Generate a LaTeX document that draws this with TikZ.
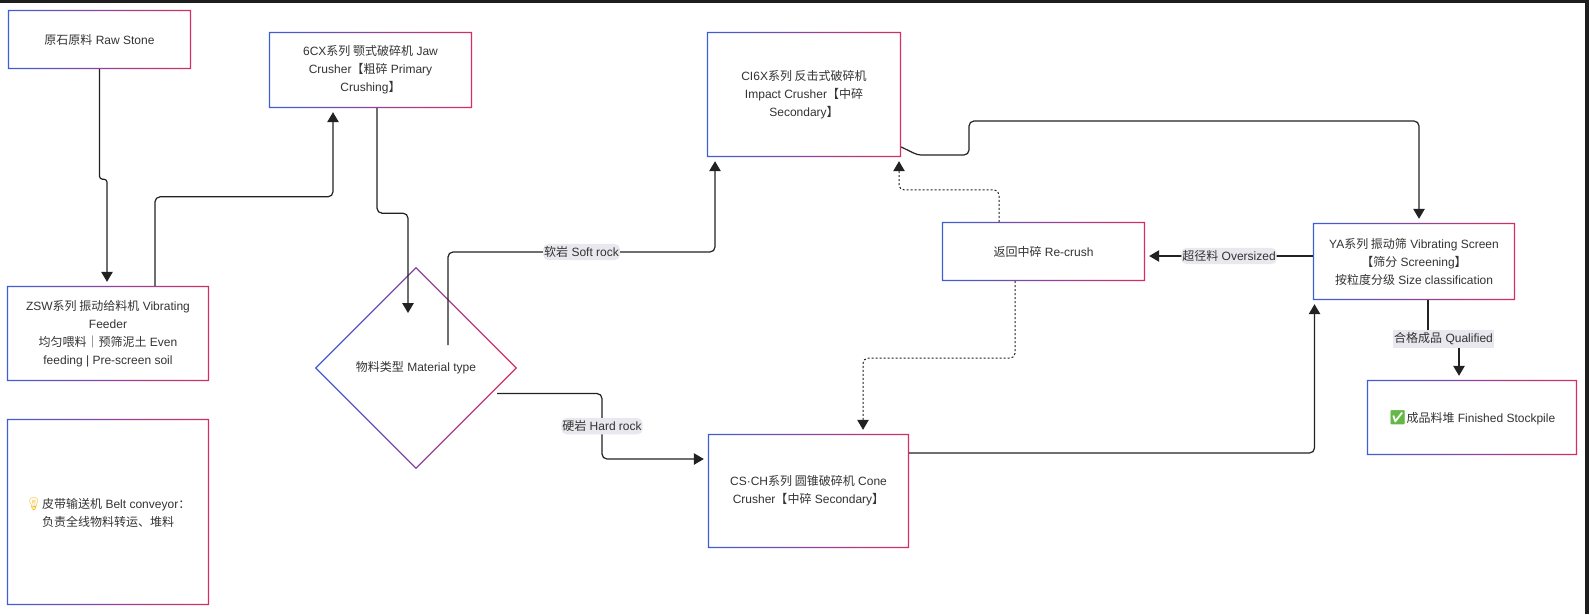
\documentclass[tikz,border=0pt]{standalone}
\usepackage{fontspec}
\setmainfont{Liberation Sans}
\newfontfamily\cjkf{Noto Sans CJK SC}
\newfontfamily\emjf{Noto Emoji}
\newcommand\zhs[1]{{\cjkf #1}}
\usetikzlibrary{arrows.meta,shapes.geometric}
\definecolor{textc}{HTML}{333333}
\definecolor{linec}{HTML}{222222}
\definecolor{gblue}{RGB}{60,95,215}
\definecolor{gred}{RGB}{215,45,100}
\definecolor{lblbg}{RGB}{232,232,238}
\definecolor{bulb}{RGB}{246,190,40}
\definecolor{okgreen}{RGB}{100,185,70}
\definecolor{framec}{HTML}{1E1E1E}
\newcommand\gring[1]{\shade[ring] (#1.south west) rectangle (#1.north east) ([shift={(1.4pt,1.4pt)}]#1.south west) rectangle ([shift={(-1.4pt,-1.4pt)}]#1.north east);}
\begin{document}
\begin{tikzpicture}[x=1pt,y=-1pt,
  box/.style={inner sep=0pt, align=center, text=textc, font=\fontsize{12}{18}\selectfont},
  ring/.style={left color=gblue, right color=gred, even odd rule},
  flow/.style={draw=linec, line width=1.2pt, rounded corners=5pt, -{Triangle[length=10pt,width=11.5pt]}, shorten >=4pt},
  dflow/.style={flow, line width=1pt, dash pattern=on 2pt off 2pt},
  lbl/.style={fill=lblbg, text=textc, inner xsep=1pt, inner ysep=2.5pt, font=\fontsize{12}{14}\selectfont},
]
\useasboundingbox (0,0) rectangle (1589,614);
\fill[white] (0,0) rectangle (1589,614);
\fill[framec] (0,0) rectangle (1589,2.7);
\fill[framec] (1585,0) rectangle (1589,614);

% nodes
\node[box, minimum width=183pt, minimum height=59pt] (raw) at (99.5,39.5) {\zhs{原石原料} Raw Stone};
\node[box, minimum width=203pt, minimum height=76pt] (jaw) at (370.5,70) {6CX\zhs{系列 颚式破碎机} Jaw\\Crusher\zhs{【粗碎} Primary\\Crushing\zhs{】}};
\node[box, minimum width=194pt, minimum height=125pt] (impact) at (804,94.5) {CI6X\zhs{系列 反击式破碎机}\\Impact Crusher\zhs{【中碎}\\Secondary\zhs{】}};
\node[box, minimum width=202pt, minimum height=95pt] (feeder) at (108,333.5) {ZSW\zhs{系列 振动给料机} Vibrating\\Feeder\\\zhs{均匀喂料｜预筛泥土} Even\\feeding | Pre-screen soil};
\node[box, minimum width=202pt, minimum height=186pt] (belt) at (108,512) {{\emjf\fontsize{13}{18}\selectfont\color{bulb}💡}\zhs{皮带输送机} Belt conveyor\zhs{：}\\\zhs{负责全线物料转运、堆料}};
\node[box, shape=diamond, minimum width=202pt, minimum height=202pt] (dia) at (416,368) {\zhs{物料类型} Material type};
\node[box, minimum width=203pt, minimum height=59pt] (recrush) at (1043.5,251.5) {\zhs{返回中碎} Re-crush};
\node[box, minimum width=202pt, minimum height=77pt] (screen) at (1414,261.5) {YA\zhs{系列 振动筛} Vibrating Screen\\\zhs{【筛分} Screening\zhs{】}\\\zhs{按粒度分级} Size classification};
\node[box, minimum width=210pt, minimum height=75pt] (stock) at (1472,417.5) {{\emjf\fontsize{14}{18}\selectfont\color{okgreen}✅}\zhs{成品料堆} Finished Stockpile};
\node[box, minimum width=201pt, minimum height=114pt] (cone) at (808.5,491) {CS·CH\zhs{系列 圆锥破碎机} Cone\\Crusher\zhs{【中碎} Secondary\zhs{】}};

\coordinate (dIn) at (408,317);
\coordinate (dSoft) at (448,345);
\coordinate (dHard) at (497,393.5);

% borders
\gring{raw}\gring{jaw}\gring{impact}\gring{feeder}\gring{belt}
\gring{recrush}\gring{screen}\gring{stock}\gring{cone}
\shade[ring] (dia.north) -- (dia.east) -- (dia.south) -- (dia.west) -- cycle
  ([yshift=-1.8pt]dia.north) -- ([xshift=-1.8pt]dia.east) -- ([yshift=1.8pt]dia.south) -- ([xshift=1.8pt]dia.west) -- cycle;

% connectors
\draw[flow, rounded corners=3pt] (raw.south) -- ++(0,110) -| ([xshift=-1pt]feeder.north);
\draw[flow] ([xshift=47pt]feeder.north) -- ++(0,-89) -| ([xshift=-37.5pt]jaw.south);
\draw[flow] ([xshift=6.5pt]jaw.south) -- ++(0,105) -| (dIn);
\draw[flow] (dSoft) -- (448,252) -- node[lbl] {\zhs{软岩} Soft rock} (715,252) -- ([xshift=-89pt]impact.south);
\draw[flow] (dHard) -- (602,393.5) -- node[lbl] {\zhs{硬岩} Hard rock} (602,459) -- ([yshift=32pt]cone.west);
\draw[flow] ([yshift=-52.5pt]impact.east) .. controls (912,152) and (916,155) .. (926,155) -- (969,155) -- (969,121) -| ([xshift=5pt]screen.north);
\draw[flow] ([yshift=38pt]cone.east) -| ([xshift=-99.5pt]screen.south);
\draw[flow] ([yshift=5.5pt]screen.west) -- node[lbl] {\zhs{超径料} Oversized} ([yshift=-4.5pt]recrush.east);
\draw[dflow] ([xshift=-44.5pt]recrush.north) -- ++(0,-32) -| ([xshift=95pt]impact.south);
\draw[dflow] ([xshift=-28.5pt]recrush.south) -- ++(0,77) -| ([xshift=54.5pt]cone.north);
\draw[flow, rounded corners=0pt] ([xshift=14pt]screen.south) -- (1428,339) -- node[lbl] {\zhs{合格成品} Qualified} (1459,339) -- ([xshift=-13pt]stock.north);
\end{tikzpicture}
\end{document}
